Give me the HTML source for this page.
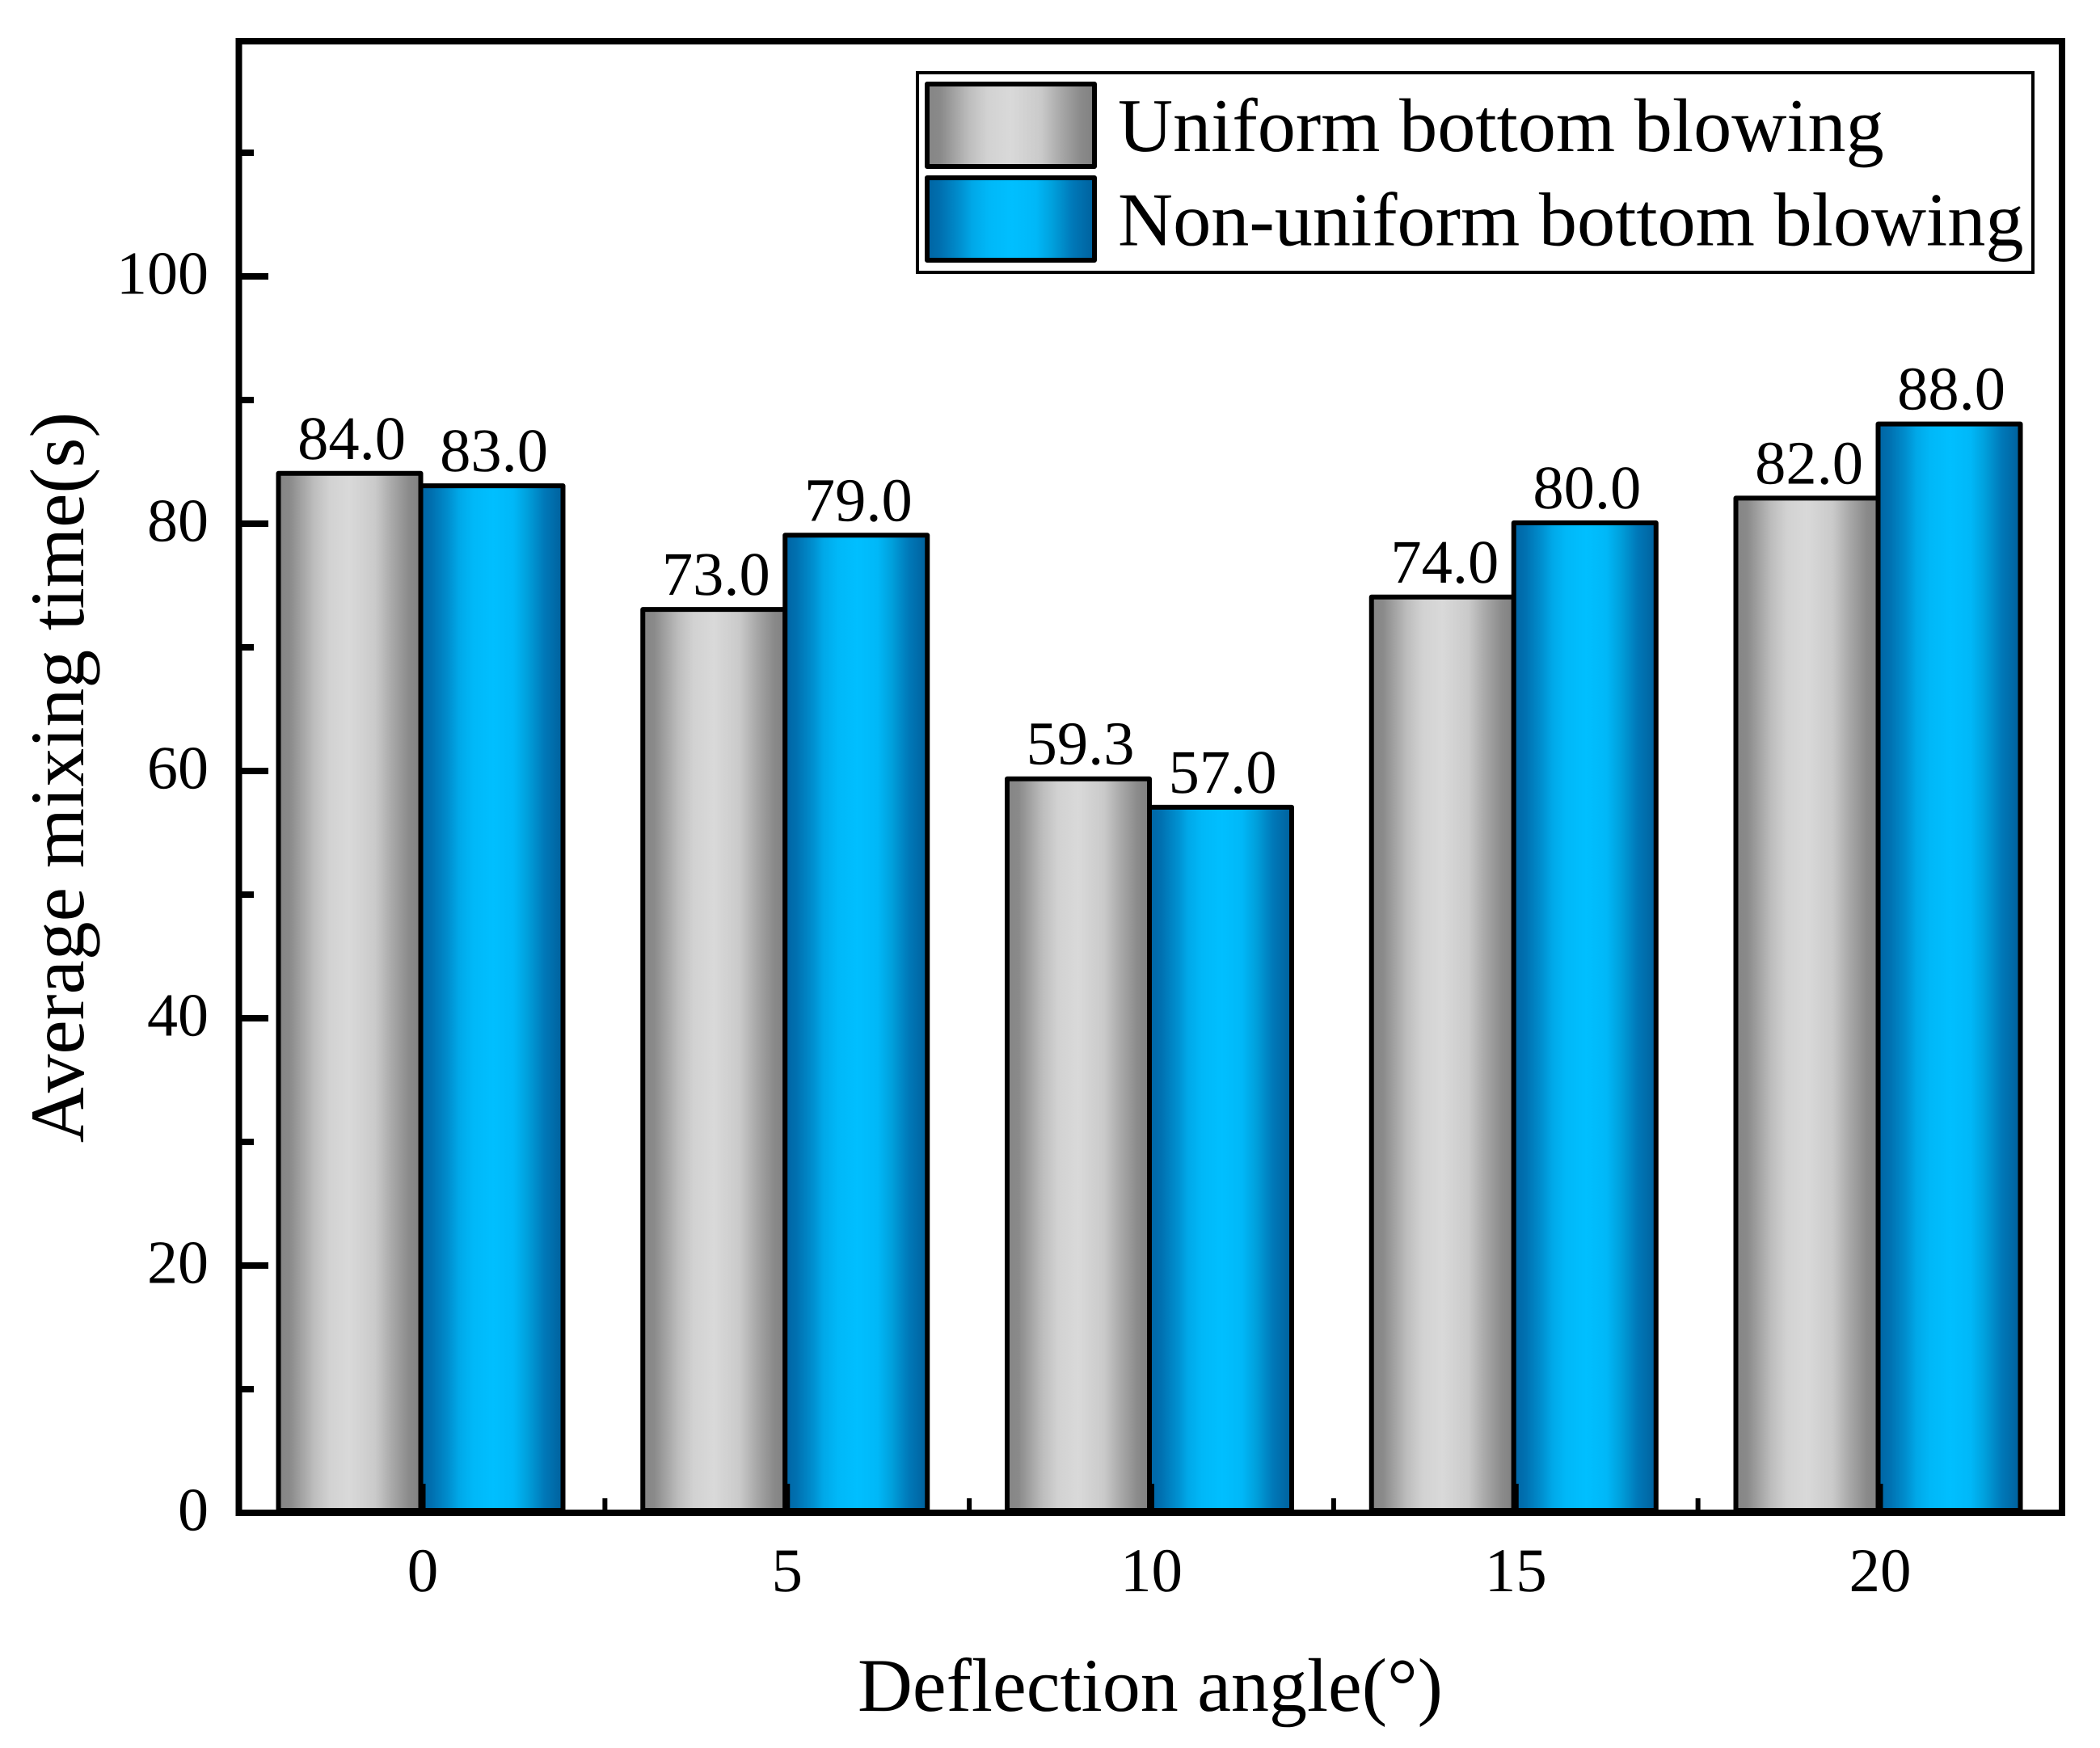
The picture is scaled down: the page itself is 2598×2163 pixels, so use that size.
<!DOCTYPE html>
<html lang="en">
<head>
<meta charset="utf-8">
<title>Average mixing time vs deflection angle</title>
<style>
html,body{margin:0;padding:0;background:#fff;}
svg{display:block;}
text{font-family:"Liberation Serif",serif;fill:#000;text-rendering:geometricPrecision;}
</style>
</head>
<body>
<svg id="chart" xmlns="http://www.w3.org/2000/svg" width="2598" height="2163" viewBox="0 0 2598 2163">
  <defs>
    <linearGradient id="grad-gray" x1="0" y1="0" x2="1" y2="0">
      <stop offset="0" stop-color="#858585"/>
      <stop offset="0.08" stop-color="#8a8a8a"/>
      <stop offset="0.25" stop-color="#bdbdbd"/>
      <stop offset="0.36" stop-color="#d2d2d2"/>
      <stop offset="0.5" stop-color="#d9d9d9"/>
      <stop offset="0.68" stop-color="#cacaca"/>
      <stop offset="0.8" stop-color="#a8a8a8"/>
      <stop offset="0.92" stop-color="#8a8a8a"/>
      <stop offset="1" stop-color="#818181"/>
    </linearGradient>
    <linearGradient id="grad-blue" x1="0" y1="0" x2="1" y2="0">
      <stop offset="0" stop-color="#0064a3"/>
      <stop offset="0.08" stop-color="#0070b0"/>
      <stop offset="0.2" stop-color="#0090d0"/>
      <stop offset="0.27" stop-color="#00a8e8"/>
      <stop offset="0.37" stop-color="#00b8f8"/>
      <stop offset="0.51" stop-color="#00bfff"/>
      <stop offset="0.65" stop-color="#00b8f8"/>
      <stop offset="0.75" stop-color="#00a0dc"/>
      <stop offset="0.87" stop-color="#0078b8"/>
      <stop offset="1" stop-color="#00609c"/>
    </linearGradient>
  </defs>
  <rect x="0" y="0" width="2598" height="2163" fill="#fff"/>
  <g id="bars"></g>
  <rect x="295.5" y="51" width="2255.5" height="1821" fill="none" stroke="#000" stroke-width="8"/>
  <g id="y-ticks"></g>
  <g id="x-ticks"></g>
  <g id="values"></g>
  <text transform="translate(103,962) rotate(-90)" text-anchor="middle" font-size="95.4">Average mixing time(s)</text>
  <text x="1423" y="2117" text-anchor="middle" font-size="94">Deflection angle(°)</text>
  <g>
    <rect x="1135" y="90" width="1380" height="247" fill="#fff" stroke="#000" stroke-width="4"/>
    <rect x="1147" y="104" width="207" height="102" fill="url(#grad-gray)" stroke="#000" stroke-width="6" stroke-linejoin="round"/>
    <text x="1383" y="187" font-size="94.25">Uniform bottom blowing</text>
    <rect x="1147" y="220" width="207" height="102" fill="url(#grad-blue)" stroke="#000" stroke-width="6" stroke-linejoin="round"/>
    <text x="1383" y="303.5" font-size="94.25">Non-uniform bottom blowing</text>
  </g>
</svg>
<script>
var categories = ["0", "5", "10", "15", "20"];
var uniformValues = [84.0, 73.0, 59.3, 74.0, 82.0];
var nonUniformValues = [83.0, 79.0, 57.0, 80.0, 88.0];
var yMajorTicks = [0, 20, 40, 60, 80, 100];
var yMinorTicks = [10, 30, 50, 70, 90, 110];

var SVGNS = "http://www.w3.org/2000/svg";
function xScale(i) { return 520.5 + 450.75 * i; }
function yScale(v) { return 1872 - 15.3 * v; }
var BAR_W = 176;
var TICK_SHIFT = 2.5;

function make(tag, parent, props) {
  var el = document.createElementNS(SVGNS, tag);
  for (var k in props) { el.setAttribute(k, props[k]); }
  parent.appendChild(el);
  return el;
}

var barsG = document.getElementById("bars");
var valuesG = document.getElementById("values");
var xG = document.getElementById("x-ticks");
var yG = document.getElementById("y-ticks");

function drawBar(value, x, fill, name) {
  var top = yScale(value) - 1;
  var el = make("rect", barsG, {
    x: x, y: top, width: BAR_W, height: yScale(0) - 3 - top,
    fill: fill, stroke: "#000", "stroke-width": 6, "stroke-linejoin": "round"
  });
  
  
  var label = make("text", valuesG, {
    x: x + BAR_W / 2 + 2.5, y: top - 18, "text-anchor": "middle", "font-size": 76.5
  });
  label.textContent = value.toFixed(1);
  
  
}

categories.forEach(function (cat, i) {
  var cx = xScale(i);
  drawBar(uniformValues[i], cx - BAR_W, "url(#grad-gray)", "bar-uniform-" + cat);
  drawBar(nonUniformValues[i], cx, "url(#grad-blue)", "bar-non-uniform-" + cat);

  var tick = make("line", xG, {
    x1: cx + TICK_SHIFT, x2: cx + TICK_SHIFT, y1: 1872, y2: 1836,
    stroke: "#000", "stroke-width": 7
  });
  
  

  var lab = make("text", xG, {
    x: cx + TICK_SHIFT, y: 1969, "text-anchor": "middle", "font-size": 77
  });
  lab.textContent = cat;
  
  

  if (i < categories.length - 1) {
    var mx = xScale(i + 0.5) + TICK_SHIFT;
    var minor = make("line", xG, {
      x1: mx, x2: mx, y1: 1872, y2: 1854,
      stroke: "#000", "stroke-width": 6
    });
    
    
  }
});

yMajorTicks.forEach(function (v) {
  var y = yScale(v);
  var tick = make("line", yG, {
    x1: 299, x2: 332, y1: y, y2: y, stroke: "#000", "stroke-width": 8
  });
  
  
  var lab = make("text", yG, {
    x: 258, y: y + 21.5, "text-anchor": "end", "font-size": 76
  });
  lab.textContent = String(v);
  
  
});

yMinorTicks.forEach(function (v) {
  var y = yScale(v);
  var tick = make("line", yG, {
    x1: 299, x2: 314, y1: y, y2: y, stroke: "#000", "stroke-width": 8
  });
  
  
});
</script>
</body>
</html>
